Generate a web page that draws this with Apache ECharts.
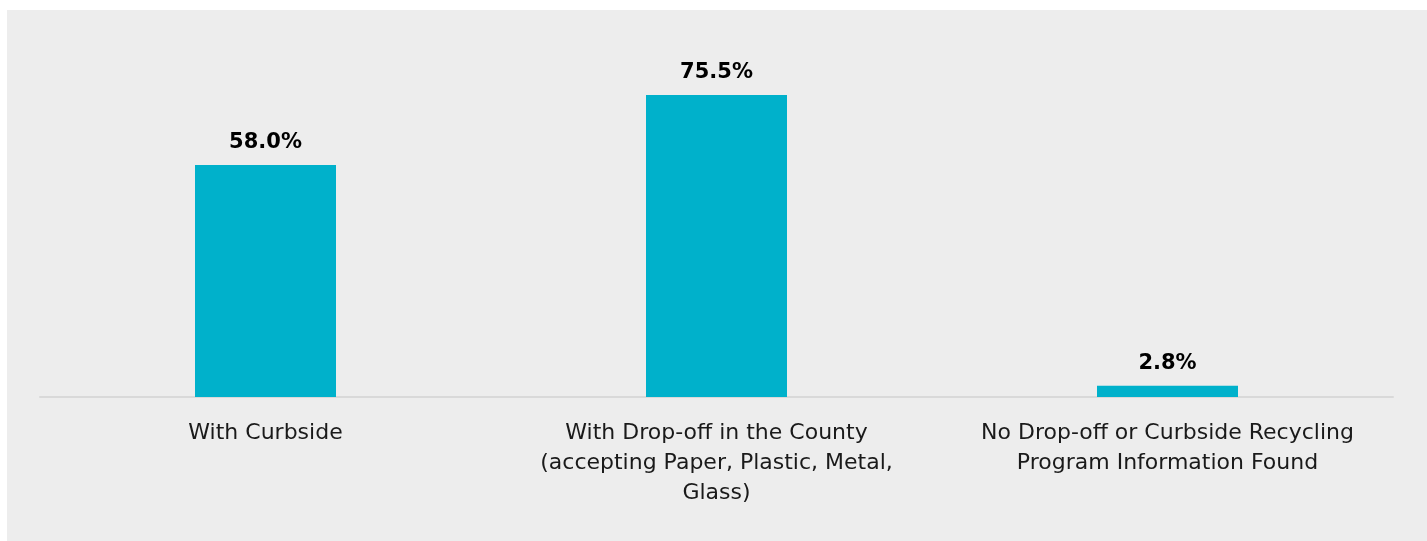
<!DOCTYPE html>
<html>
<head>
<meta charset="utf-8">
<script src="https://cdn.jsdelivr.net/npm/echarts@6/dist/echarts.min.js"></script>
<style>
  html, body { margin: 0; padding: 0; background: #ffffff; }
  #box { position: absolute; left: 7px; top: 10px; width: 1420px; height: 531px; background: #ededed; }
  #chart { width: 100%; height: 100%; }
</style>
</head>
<body>
<div id="box"><div id="chart"></div></div>
<script>
// categories and values
const categories = [
  'With Curbside',
  'With Drop-off in the County\n(accepting Paper, Plastic, Metal,\nGlass)',
  'No Drop-off or Curbside Recycling\nProgram Information Found'
];
const shares = [58.0, 75.5, 2.8];

const chart = echarts.init(document.getElementById('chart'));
chart.setOption({
  backgroundColor: 'transparent',
  animation: false,
  grid: { left: 33, right: 34, top: 67, bottom: 144 },
  xAxis: {
    type: 'category',
    data: categories,
    axisLine: { lineStyle: { color: '#d9d9d9', width: 2 } },
    axisTick: { show: false },
    axisLabel: {
      interval: 0,
      margin: 21,
      color: '#1a1a1a',
      fontFamily: 'DejaVu Sans',
      fontSize: 22,
      lineHeight: 30
    }
  },
  yAxis: {
    type: 'value',
    min: 0,
    max: 80,
    show: false,
    splitLine: { show: false }
  },
  series: [{
    type: 'bar',
    data: shares,
    barWidth: 141,
    itemStyle: { color: '#00b1cb' },
    label: {
      show: true,
      position: 'top',
      distance: 12,
      color: '#000000',
      fontFamily: 'DejaVu Sans',
      fontWeight: 'bold',
      fontSize: 21,
      formatter: p => p.value.toFixed(1) + '%'
    }
  }]
});
</script>
</body>
</html>
